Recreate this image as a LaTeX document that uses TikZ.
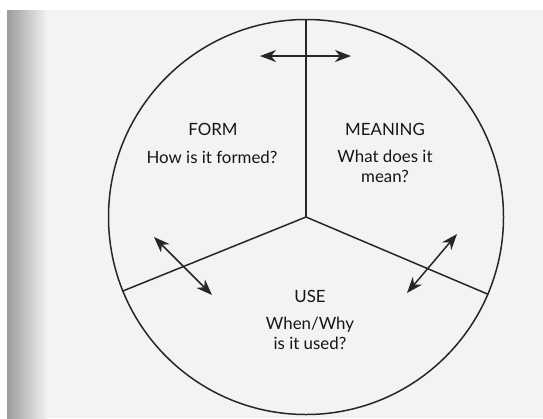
\documentclass[tikz,border=0pt]{standalone}
\usepackage{fontspec}
\setmainfont{Lato}
\usetikzlibrary{arrows.meta,calc}
\definecolor{fmink}{HTML}{262626}
\definecolor{fmtext}{HTML}{161616}
\definecolor{fmpage}{HTML}{F3F3F3}
\definecolor{fmgutter}{HTML}{9C9C9C}
\tikzset{
  fmtitle/.style={font=\fontsize{9.6}{11.5}\selectfont, text=fmtext, inner sep=1pt},
  fmquestion/.style={font=\fontsize{9.6}{11.2}\selectfont, text=fmtext, align=center, inner sep=1pt},
  fmline/.style={draw=fmink, line width=0.85pt},
  fmarrow/.style={{Stealth[length=3.2mm, width=2.4mm, inset=1mm]}-{Stealth[length=3.2mm, width=2.4mm, inset=1mm]}, line width=0.85pt, draw=fmink},
}

\begin{document}
\begin{tikzpicture}
  \useasboundingbox (0,0) rectangle (10.86,-8.36);
  % scanned page with the gutter on the left
  \fill[white] (0,0) rectangle (10.86,-8.36);
  \fill[fmpage] (0.14,-0.2) rectangle (10.86,-8.36);
  \shade[left color=fmgutter, right color=fmpage] (0.14,-0.2) rectangle (0.95,-8.36);
  % the wheel in three parts
  \node[circle, fmline, minimum size=7.9cm, inner sep=0pt] (wheel) at (6.12,-4.34) {};
  \draw[fmline] (wheel.center) -- (wheel.90);
  \draw[fmline] (wheel.center) -- (wheel.202.8);
  \draw[fmline] (wheel.center) -- (wheel.-23.5);
  \node[fmtitle] (form) at (4.26,-2.58) {FORM};
  \node[fmquestion] (formq) at (4.24,-3.14) {How is it formed?};
  \node[fmtitle] (meaning) at (7.70,-2.58) {MEANING};
  \node[fmquestion] (meaningq) at (7.70,-3.33) {What does it\\mean?};
  \node[fmtitle] (use) at (6.20,-5.92) {USE};
  \node[fmquestion] (useq) at (6.20,-6.66) {When/Why\\is it used?};
  % links between the parts
  \coordinate (fm1) at (5.20,-1.12);
  \coordinate (fm2) at (7.02,-1.12);
  \coordinate (fu1) at (3.08,-4.74);
  \coordinate (fu2) at (4.24,-5.90);
  \coordinate (mu1) at (9.14,-4.68);
  \coordinate (mu2) at (8.14,-5.86);
  \draw[fmarrow] (fm1) -- (fm2);
  \draw[fmarrow] (fu1) -- (fu2);
  \draw[fmarrow] (mu1) -- (mu2);
\end{tikzpicture}
\end{document}
